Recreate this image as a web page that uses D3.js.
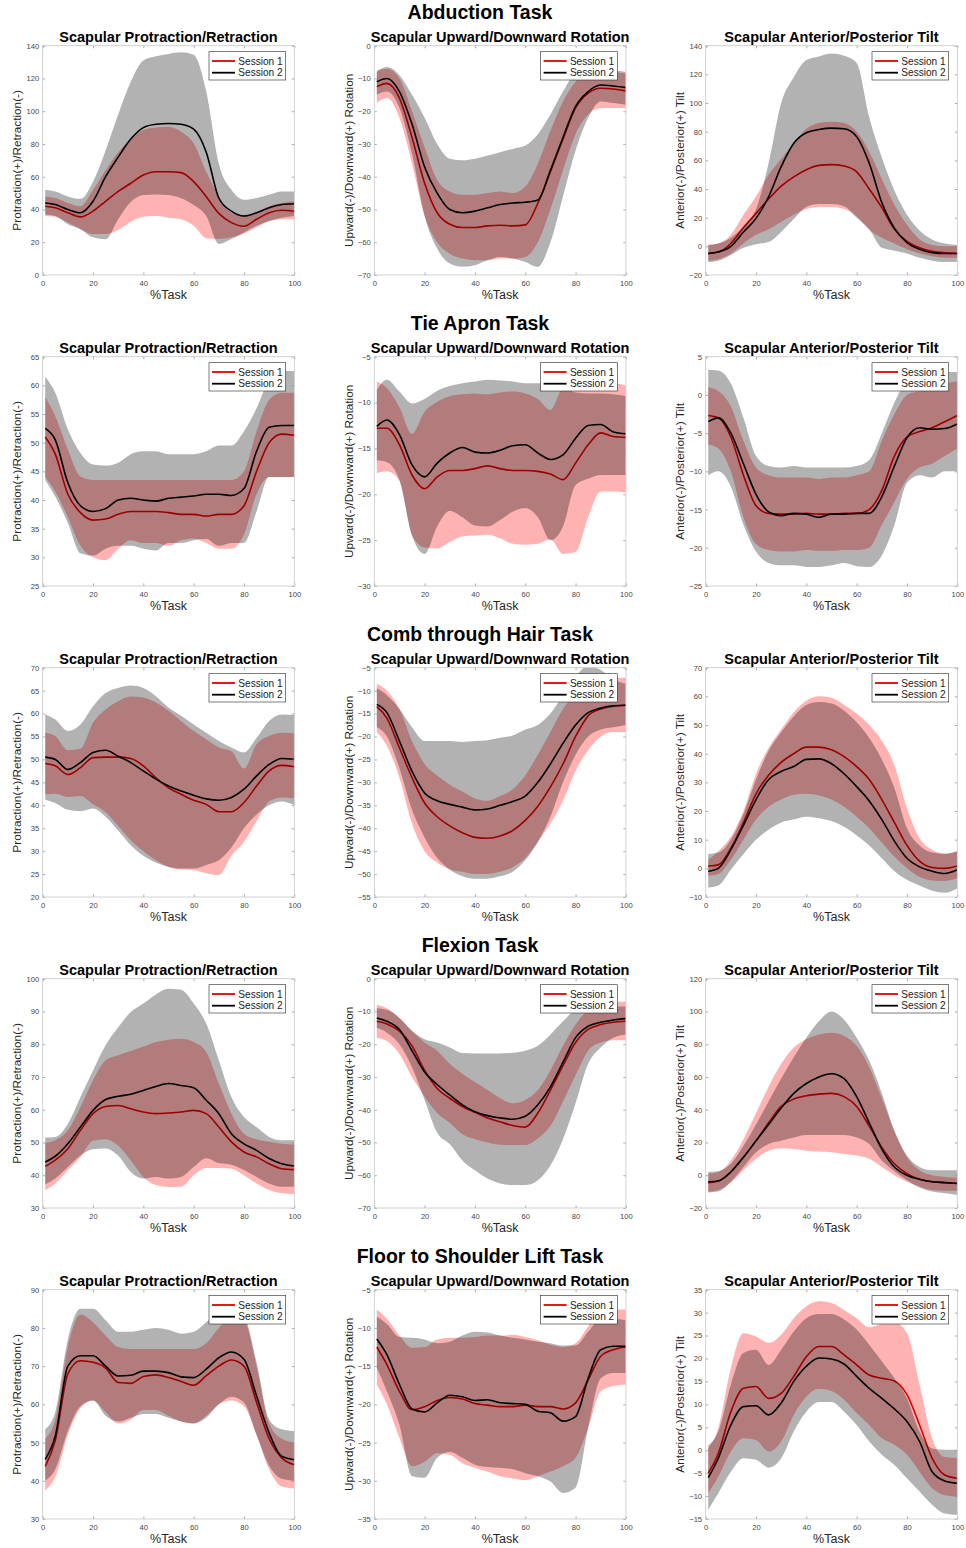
<!DOCTYPE html>
<html><head><meta charset="utf-8">
<script src="https://cdn.jsdelivr.net/npm/d3@7"></script>
<style>
html,body{margin:0;padding:0;background:#fff;}
svg{display:block;font-family:"Liberation Sans",Arial,Helvetica,sans-serif;}
</style></head><body>
<svg id="chart" width="966" height="1548"></svg>
<script>
// ---------- categories / labels ----------
const taskTitles = ["Abduction Task","Tie Apron Task","Comb through Hair Task","Flexion Task","Floor to Shoulder Lift Task"];
const panelTitles = ["Scapular Protraction/Retraction","Scapular Upward/Downward Rotation","Scapular Anterior/Posterior Tilt"];
const yLabels = ["Protraction(+)/Retraction(-)","Upward(-)/Downward(+) Rotation","Anterior(-)/Posterior(+) Tilt"];
const seriesNames = ["Session 1","Session 2"];
const xTicks = [0,20,40,60,80,100];
// %Task sample points
const pct = [1,5,10,15,20,25,30,35,40,45,50,55,60,65,70,75,80,85,90,95,100];
// y axis domains and tick steps, panel order row by row
const yDomains = [[0,140],[-70,0],[-20,140],[25,65],[-30,-5],[-25,5],[20,70],[-55,-5],[-10,70],[30,100],[-70,0],[-20,120],[30,90],[-35,-5],[-15,35]];
const yTickSteps = [20,10,20,5,5,5,5,5,10,10,10,20,10,5,5];

// ---------- Abduction ----------
const abdPro_s1   = [42,41,38,35.5,39,45,51,56,61,63,63,62.5,57,47.8,37.6,32,29.8,34,38,39.5,39];
const abdPro_s1lo = [36,35.5,32,28,25,25,27.5,32.5,35.5,36,35,34,30,22.5,22,23,25.4,29,33,34,34];
const abdPro_s1hi = [48,47,44,42,52,64,75,83,88.5,90,90.5,87.5,80.4,63,48,38,36,38,42,44,45];
const abdPro_s2   = [44,43,40,38,45,60,72,83,90,92,92.5,92,89,75,47,39,36,38,41,43,43.5];
const abdPro_s2lo = [37,36,31,28,23,21.8,34,44.5,48.8,49.2,48.8,46.8,42.7,36,19,22,26,30,33,35,36];
const abdPro_s2hi = [52,51,48,46.5,57,76,98,118,131,133.5,135,136,134.5,112,68,52,46,47,49,51,51];

const abdUp_s1   = [-12.5,-11.5,-16,-28,-42,-51,-54.5,-55.5,-55.5,-55,-54.8,-55,-54.7,-48.1,-38.5,-28.5,-19,-14.5,-13,-13.2,-13.8];
const abdUp_s1lo = [-17.5,-16,-22,-36,-52,-60,-63.5,-65,-65.5,-65.5,-65,-65,-64.5,-60,-50,-38,-27,-21,-19,-19,-19];
const abdUp_s1hi = [-7.5,-7,-10,-20,-31,-41,-44.5,-45.5,-45.5,-45,-44.5,-45,-43,-36,-26,-17,-11,-7.5,-7.5,-8,-8.5];
const abdUp_s2   = [-11,-10,-14,-24,-37,-45,-50,-51,-50.5,-49.5,-48.5,-48,-47.8,-47.1,-38,-28,-18.5,-14,-12,-12.3,-12.8];
const abdUp_s2lo = [-15,-14,-19,-33,-52,-62,-66.5,-67.5,-67,-65.5,-64.5,-65,-66,-67.5,-60,-46,-32,-22,-17,-17.5,-18];
const abdUp_s2hi = [-8,-6.5,-9,-15,-22,-30,-34.5,-35,-34.5,-33.5,-32.5,-31.5,-30.5,-27,-21,-14,-8,-6.5,-7,-7.5,-8];

const abdTilt_s1   = [-5,-4,2,13,23,33,42,48.5,53.5,56.5,57,56,52,40,27,12,3.5,-1,-3.5,-4.5,-5];
const abdTilt_s1lo = [-10,-9,-5,2,8,12,17,22,26,27.5,27.5,26,21,11.5,6,2,-2,-5,-7,-8,-8];
const abdTilt_s1hi = [1,2,8,22,35,50,61,72,82,86,87,86,80,66,47,29,15,5,1,0,0];
const abdTilt_s2   = [-5,-4,0,10,19.5,34.6,55.6,71.9,79.3,81.5,82.5,82,76.5,58,30.5,12.6,2.6,-2,-4.4,-5,-5];
const abdTilt_s2lo = [-11,-10,-6,-1,1.5,3,10,19,27.5,29.5,29.5,28,20,12,-1,-3,-5,-8,-10,-11,-11];
const abdTilt_s2hi = [1,2,6,14,26,58,100,118,130,132.5,134.5,133,128,90,62,39,22,11,4.7,2,1];

// ---------- Tie Apron ----------
const tiePro_s1   = [51,48,41,37.8,36.5,36.7,37.5,38,38,38,37.8,37.5,37.5,37.2,37.5,37.5,39,45,50,51.5,51.3];
const tiePro_s1lo = [44,41.5,37,32,30,29.5,31.5,33,32.5,32.5,32,33,33.3,32.5,31.5,31.5,34,41,44,44,44];
const tiePro_s1hi = [58,54.6,48.8,44.1,43.5,43.5,43.5,43.5,43.5,43.5,43.5,43.5,43.5,43.5,43.5,43.5,45,52,57.5,58.7,58.7];
const tiePro_s2   = [52.5,50.5,43,39,38,38.5,40,40.3,40,39.8,40.3,40.5,40.7,41,41,40.8,42,48.5,52.7,53,53];
const tiePro_s2lo = [43.5,40.6,36,30.7,30.3,31.5,32,32,31.5,31.2,32.5,32.5,33,33.2,32,32.5,32.5,38,44,44,44];
const tiePro_s2hi = [61.5,58.7,52.3,48.2,46.2,46,46.5,48,48.5,48.5,48,48,48,48.5,49.5,49.5,52,56,61,62.5,62.5];

const tieUp_s1   = [-12.8,-12.8,-14.6,-17.9,-19.4,-18.1,-17.4,-17.4,-17.2,-16.9,-17.2,-17.4,-17.4,-17.5,-17.8,-18.4,-16.6,-14.6,-13.3,-13.7,-13.8];
const tieUp_s1lo = [-17.7,-17.5,-18.5,-24.5,-25.8,-25.9,-25.2,-24.6,-24.5,-24.4,-24.8,-25.4,-25.5,-25.4,-24.9,-26.5,-26.3,-22.5,-19.7,-19.7,-19.8];
const tieUp_s1hi = [-7.7,-8.4,-10.5,-13.4,-11,-9.9,-9.3,-9.1,-9,-9.1,-8.9,-8.8,-9,-9.6,-10.8,-8.3,-7.8,-7.8,-7.8,-7.9,-8.1];
const tieUp_s2   = [-12.6,-11.9,-13.5,-16.8,-18.1,-16.6,-15.5,-14.9,-15.4,-15.5,-15.2,-14.7,-14.6,-15.5,-16.2,-15.7,-13.9,-12.5,-12.4,-13.2,-13.4];
const tieUp_s2lo = [-16.3,-16.5,-18.5,-24.5,-26.5,-23.5,-21.8,-22.5,-23.4,-23.5,-22.8,-21.9,-21.5,-22.5,-25,-23.5,-19,-18.3,-17.9,-17.9,-17.9];
const tieUp_s2hi = [-8.6,-7.5,-8.8,-10.1,-9.6,-8.7,-8.2,-7.9,-7.7,-7.5,-7.6,-7.7,-7.9,-7.9,-8,-8.3,-8.9,-9,-9,-9.1,-9.3];

const tieTilt_s1   = [-2.7,-3,-5.5,-10.5,-14.5,-15.5,-15.6,-15.6,-15.5,-15.6,-15.6,-15.5,-15.5,-15,-12.5,-8,-5.5,-4.8,-4.3,-3.5,-2.7];
const tieTilt_s1lo = [-6.5,-7,-10,-16,-19.5,-20.3,-20.5,-20.5,-20.3,-20.4,-20.4,-20.3,-20.3,-20,-17,-14,-11,-9.5,-9,-8,-7];
const tieTilt_s1hi = [1,0.5,-1.5,-6,-9.5,-10.5,-10.8,-10.8,-10.8,-11,-10.8,-10.8,-10.5,-10,-6,-2.5,0,0.5,1,1.5,1.8];
const tieTilt_s2   = [-3.5,-3,-5,-9,-13,-15.3,-15.8,-15.5,-15.6,-16,-15.6,-15.6,-15.5,-15.5,-13.3,-9.3,-5.6,-4.3,-4.5,-4.4,-3.8];
const tieTilt_s2lo = [-10.5,-10,-12,-17,-20.5,-22,-22.3,-22.3,-22.5,-22.5,-22.3,-22,-22.4,-22.5,-21,-17,-11.5,-10.5,-10.8,-10,-10];
const tieTilt_s2hi = [3.3,3.2,1.5,-3,-8,-9.3,-9.5,-9.3,-9.5,-9.5,-9.5,-9.5,-9.3,-8.5,-5,-1,2,3,3,3,3];

// ---------- Comb through Hair ----------
const combPro_s1   = [49.1,48.6,46.7,48.2,50.4,50.5,50.5,50.2,48.6,46,43.8,42.4,41.1,40.2,38.6,38.6,40.6,44.2,47.5,48.7,48.4];
const combPro_s1lo = [42.4,42.5,41.8,42,40.2,38.5,35.5,32.4,30,28,26.5,26,25.9,25.2,24.8,29,32,36.5,40.8,41.7,41.5];
const combPro_s1hi = [55.8,55.1,52,52.3,58,60.9,62.7,63.7,63.5,62.4,60.6,58.4,56.2,54.4,52.6,51.8,48,53.3,55.1,55.8,55.7];
const combPro_s2   = [50.5,50,47.8,49.3,51.5,52,50.7,49.3,47.5,45.7,44.2,43.1,42.2,41.4,41.1,41.7,43.5,46.4,48.9,50.2,50];
const combPro_s2lo = [41.2,40.5,39,38.7,39.3,37.5,34.5,31.3,29,27.5,26.6,26.2,26.2,27,28,30.8,35,38,40,40.8,40];
const combPro_s2hi = [59.8,58.7,56.2,57.6,61.6,64.5,65.6,66.1,65.6,63.8,61.3,59.5,57.6,55.8,54,52.6,51.5,54.7,58.4,59.8,59.7];

const combUp_s1   = [-13.5,-16,-22.5,-29,-34.5,-37.5,-39.5,-41,-42,-42.2,-41.7,-40.5,-38.3,-35.2,-31,-26,-20,-15.5,-14,-13.4,-13.2];
const combUp_s1lo = [-19,-22,-29,-39,-45,-47.5,-49,-49.5,-50,-50,-49.5,-48.5,-46.5,-43,-39,-34,-27.5,-23,-20,-19,-19];
const combUp_s1hi = [-8.5,-10,-14,-21,-26,-28.5,-30.5,-32,-33.5,-34,-33,-31.5,-28.5,-24,-19,-14,-10.5,-8.5,-7.5,-7.3,-7.2];
const combUp_s2   = [-13,-14.8,-21,-27.6,-32.3,-34,-34.8,-35.4,-36,-35.8,-35,-34.2,-33,-30,-26,-21.5,-17.5,-14.8,-13.8,-13.3,-13.2];
const combUp_s2lo = [-18,-20,-27,-36,-42,-46.5,-49,-50.5,-51,-51,-50.5,-49.5,-47,-43,-37.5,-30,-24,-20,-18.5,-18,-17.5];
const combUp_s2hi = [-9.5,-11,-14,-18,-21,-21,-21,-21.2,-21,-20.8,-20.3,-19.8,-18.5,-17.5,-15,-11,-7,-4.5,-5.5,-7.5,-8.5];

const combTilt_s1   = [0.8,1.2,7,16,26,32.5,37,40,42.3,42.3,41.4,39,35.5,31,24,16,8,2.5,0.3,0,0.8];
const combTilt_s1lo = [-2.6,-2,3,10,17,21.5,24,25.7,26,25.4,24,21.5,18,14,9,4,0,-3,-4.2,-4.4,-3.5];
const combTilt_s1hi = [3,6,11,20,33,42,48.5,54.5,58.5,60,59.5,57,54,50,44.5,36,21,10.5,6.5,5.2,6];
const combTilt_s2   = [-1,0,6.5,15,24,31,33.8,35.5,38,38.2,36.5,33,28.5,23.5,17,9.5,3.5,0.5,-1,-1.8,-0.5];
const combTilt_s2lo = [-6.7,-6,-0.5,5,10,13.5,16,17,18,17.5,16.5,14.5,11.5,8,3.5,-1,-4,-6,-7.8,-8.5,-7];
const combTilt_s2hi = [5,5.5,10,19,31,41,47.5,53,57,58,57.5,55,51,45.5,38,28,14,8,5.5,5,6];

// ---------- Flexion ----------
const flexPro_s1   = [42.7,44.6,48.1,53.7,58.8,61,61.3,60.3,59.3,58.8,59,59.3,59.8,58.8,54.7,50.2,47.1,45.6,43.5,42,41.7];
const flexPro_s1lo = [35.4,37.5,41.5,45.5,50.5,51,49,44.5,39.5,37,36.4,36.5,40,42.2,42.2,42,40,37.5,35.5,34.5,34.3];
const flexPro_s1hi = [49.9,50.7,53.7,60.8,69,75.1,76.6,77.9,79.3,80.7,81.4,81.7,80.7,77.6,68,58.8,52.7,51,50.2,49.6,49.4];
const flexPro_s2   = [44.05,45.8,49.6,54.7,59.8,63.1,64.1,64.7,65.9,67.1,68,67.4,66.7,62.9,58.8,52.7,49.6,47.6,45.1,43.5,42.8];
const flexPro_s2lo = [37.2,39,42.5,46,47.9,48.2,46,41,39,39.5,39,39.5,42.5,45.2,43.7,43.2,41.6,39.5,37.5,36.5,36.5];
const flexPro_s2hi = [51.5,51.7,55.7,63.9,72,79.7,85.2,89.8,92.4,95.2,96.9,96.6,92.4,86.3,75.1,63.9,57.8,54.7,51.7,50.7,50.7];

const flexUp_s1   = [-13,-13.8,-16,-20.5,-28,-33.5,-36.5,-39,-40.8,-42.5,-43.7,-44.8,-45.3,-41,-34,-26.5,-19.5,-15.5,-14,-13.3,-13];
const flexUp_s1lo = [-18,-19,-23,-30,-36,-41,-44,-47.5,-49,-50,-50.7,-50.8,-50.8,-48.8,-45,-37.5,-29.5,-22,-19.5,-18.8,-18.8];
const flexUp_s1hi = [-8,-9,-12,-16,-19.5,-22,-26,-29,-31.5,-34,-36.5,-38,-37,-34,-28,-20.5,-14,-9.5,-7.5,-7,-7];
const flexUp_s2   = [-12,-13,-15.5,-22,-28.5,-32.3,-35.5,-38.5,-40.6,-41.8,-42.5,-42.9,-42,-38.5,-33,-25.5,-18,-14.5,-13.3,-12.6,-12.2];
const flexUp_s2lo = [-15,-16.5,-20,-27,-37,-47,-50.5,-55.5,-58.5,-61,-62.5,-63,-63,-61.5,-57,-49,-38,-26,-21,-18,-17];
const flexUp_s2hi = [-9,-9.5,-12,-16,-18.5,-19.5,-21,-22.7,-22.8,-22.8,-22.8,-22.6,-22,-20.5,-17,-13,-9.5,-8.5,-8.5,-8.5,-8.5];

const flexTilt_s1   = [-4.5,-3.5,2,11,21,32,42,46.5,48.5,49.5,50,48,42,30,17,7,1,-2.5,-4,-4.5,-5];
const flexTilt_s1lo = [-10,-9,-4.5,3,10,15,16.5,16,15,14.5,14,13,12,10,5,0,-4,-7,-9,-9.5,-9.5];
const flexTilt_s1hi = [1,2,9,22,38,54,68,78,83,86,87,85,79,66,47,27,11,3,0,-1,-1.5];
const flexTilt_s2   = [-4,-3.5,2,11,21,31,41,50,56,60,62,59,48,32,16,5,0,-2.5,-4,-4.5,-5];
const flexTilt_s2lo = [-10.5,-10,-4,5,14,19,21,23,24.5,24.5,24.5,24.5,23,19,9,2.5,-3,-7.5,-10,-11,-12];
const flexTilt_s2hi = [2,2.5,7,18,31,45,59,72,84,94,100,95,84,70,50,27,12,5,3,3,3];

// ---------- Floor to Shoulder Lift ----------
const liftPro_s1   = [43.8,50.5,68,71.4,71,69.5,65.7,65.5,67.3,67.7,67,66,65,67.5,70,71.6,70,60.5,51,46,44.2];
const liftPro_s1lo = [37.5,41,52,59,61,58,55,56,58.5,58.5,57,55.5,55,57,60,61,59.5,52,43,38.5,38];
const liftPro_s1hi = [51,56,75,83.5,81.5,78,75,74.5,74.5,74.5,74.5,74.5,74.5,76,80,83,82,70,55,51,50];
const liftPro_s2   = [45.6,51.7,70,72.7,72.7,70,67.4,67.6,68.7,68.7,68.3,67.2,67,69.2,72.2,73.7,71.8,62.2,52.5,46.4,45.5];
const liftPro_s2lo = [40,43,53,59.5,61,57,55.5,56.5,57.5,57.5,56.5,55.5,55,56.5,60,62,60.5,52,44,40.5,40];
const liftPro_s2hi = [53.5,58,77,85,85,82,79,79,79.5,80,79.5,78.5,79,81.5,84,84.5,83,71,56,53.5,53];

const liftUp_s1   = [-12.5,-14.8,-18.3,-20.7,-20.3,-19.5,-19.1,-19.3,-19.9,-20.1,-20.3,-20.3,-20.1,-20.3,-20.3,-20.6,-19.8,-16.8,-13.7,-12.85,-12.5];
const liftUp_s1lo = [-17.4,-20,-24.4,-28.1,-27.5,-26.4,-26.6,-27.7,-28.3,-28.8,-29.4,-29.7,-29.9,-29.4,-28.8,-28.1,-27,-23.1,-18.3,-17.6,-17.4];
const liftUp_s1hi = [-7.6,-8.8,-11,-12.6,-12.5,-11.5,-11.3,-11.3,-11.2,-11,-11,-10.9,-11.2,-11.6,-12.2,-12.5,-12,-9.8,-7.8,-7.6,-7.6];
const liftUp_s2   = [-11.45,-13.5,-17.4,-20.6,-21,-19.8,-18.8,-19,-19.5,-19.4,-19.8,-19.9,-20,-20.9,-21.1,-22.2,-21.6,-16.6,-12.85,-12.4,-12.4];
const liftUp_s2lo = [-15.2,-18.3,-22.7,-29.4,-29.6,-27,-26.2,-27,-27.9,-28.2,-28.3,-28.5,-29,-29.4,-30.1,-31.6,-30.9,-23.1,-16.6,-15.9,-15.9];
const liftUp_s2hi = [-8.5,-9.5,-11.2,-11.3,-11.5,-12,-11.8,-11,-10.5,-10.6,-11,-11.3,-11.5,-11.8,-12,-12.3,-12.3,-10.5,-8.8,-8.8,-9];

const liftTilt_s1   = [-5,-0.7,8.4,13.5,13.9,11.3,12.4,16.1,20.4,22.6,22.6,20.8,18.6,16.4,15.7,15.1,12.1,5.5,-1.75,-5.4,-6.1];
const liftTilt_s1lo = [-9.4,-5.8,-0.3,2.6,2.25,-0.3,1.9,7.7,11.7,13.4,12.9,11,8.1,5.5,2.6,1.2,-1,-4.7,-8.3,-9.8,-10.1];
const liftTilt_s1hi = [0.4,4.8,17.9,25.5,24.8,23.4,25.2,28.8,31.4,32.5,32.1,30.6,28.8,26.8,27.5,27.9,25.5,14.3,2.6,-1.5,-1.7];
const liftTilt_s2   = [-6,-1.75,5.5,9.5,9.7,7.7,10.3,15,18.3,20.1,19.9,18.8,16.1,13.5,11.3,9,6.25,1.9,-4.7,-6.7,-7.2];
const liftTilt_s2lo = [-13,-9.4,-4.7,-1.75,-2.1,-3.8,-1.75,4.1,8.4,10.5,10.5,8.4,5.5,1.9,-1,-3.2,-6.1,-9,-11.9,-13.8,-14.1];
const liftTilt_s2hi = [1,4.1,14.3,21.2,21.9,18.6,21.9,25.9,28.8,29.7,29.7,28.5,26.3,23,19.4,15.7,11.3,4.1,0.4,0.1,0.1];

// ---------- assemble panel table ----------
const panelSeries = [
  [abdPro_s1,abdPro_s1lo,abdPro_s1hi,abdPro_s2,abdPro_s2lo,abdPro_s2hi],
  [abdUp_s1,abdUp_s1lo,abdUp_s1hi,abdUp_s2,abdUp_s2lo,abdUp_s2hi],
  [abdTilt_s1,abdTilt_s1lo,abdTilt_s1hi,abdTilt_s2,abdTilt_s2lo,abdTilt_s2hi],
  [tiePro_s1,tiePro_s1lo,tiePro_s1hi,tiePro_s2,tiePro_s2lo,tiePro_s2hi],
  [tieUp_s1,tieUp_s1lo,tieUp_s1hi,tieUp_s2,tieUp_s2lo,tieUp_s2hi],
  [tieTilt_s1,tieTilt_s1lo,tieTilt_s1hi,tieTilt_s2,tieTilt_s2lo,tieTilt_s2hi],
  [combPro_s1,combPro_s1lo,combPro_s1hi,combPro_s2,combPro_s2lo,combPro_s2hi],
  [combUp_s1,combUp_s1lo,combUp_s1hi,combUp_s2,combUp_s2lo,combUp_s2hi],
  [combTilt_s1,combTilt_s1lo,combTilt_s1hi,combTilt_s2,combTilt_s2lo,combTilt_s2hi],
  [flexPro_s1,flexPro_s1lo,flexPro_s1hi,flexPro_s2,flexPro_s2lo,flexPro_s2hi],
  [flexUp_s1,flexUp_s1lo,flexUp_s1hi,flexUp_s2,flexUp_s2lo,flexUp_s2hi],
  [flexTilt_s1,flexTilt_s1lo,flexTilt_s1hi,flexTilt_s2,flexTilt_s2lo,flexTilt_s2hi],
  [liftPro_s1,liftPro_s1lo,liftPro_s1hi,liftPro_s2,liftPro_s2lo,liftPro_s2hi],
  [liftUp_s1,liftUp_s1lo,liftUp_s1hi,liftUp_s2,liftUp_s2lo,liftUp_s2hi],
  [liftTilt_s1,liftTilt_s1lo,liftTilt_s1hi,liftTilt_s2,liftTilt_s2lo,liftTilt_s2hi]
];

// ---------- layout ----------
const colLeft = [42.7, 374.3, 705.7];
const plotW = 251.6, plotH = 229.3;
const rowTop0 = 45.7, rowStep = 311;
const boxColor = "#c6c6c6", tickColor = "#8a8a8a", labelColor = "#444";

const svg = d3.select("#chart");
const defs = svg.append("defs");

taskTitles.forEach((t, r) => {
  svg.append("text").attr("x", 480).attr("y", rowTop0 + r * rowStep - 27.2)
    .attr("text-anchor", "middle").attr("font-size", 19.5).attr("font-weight", "bold")
    .attr("fill", "#000").text(t);
});

panelSeries.forEach((S, i) => {
  const r = Math.floor(i / 3), c = i % 3;
  const x0 = colLeft[c], y0 = rowTop0 + r * rowStep;
  const x = d3.scaleLinear().domain([0, 100]).range([x0, x0 + plotW]);
  const y = d3.scaleLinear().domain(yDomains[i]).range([y0 + plotH, y0]);
  const step = yTickSteps[i];
  const yTicks = d3.range(yDomains[i][0], yDomains[i][1] + step / 2, step);

  const clipId = "clip" + i;
  defs.append("clipPath").attr("id", clipId).append("rect")
    .attr("x", x0).attr("y", y0).attr("width", plotW).attr("height", plotH);

  const g = svg.append("g");
  const plot = g.append("g").attr("clip-path", `url(#${clipId})`);

  const area = (lo, hi) => d3.area()
    .x((d, k) => x(pct[k])).y0((d, k) => y(lo[k])).y1((d, k) => y(hi[k]))
    .curve(d3.curveMonotoneX)(pct);
  const line = (m) => d3.line()
    .x((d, k) => x(pct[k])).y((d, k) => y(m[k]))
    .curve(d3.curveMonotoneX)(pct);

  const [m1, lo1, hi1, m2, lo2, hi2] = S;
  plot.append("path").attr("d", area(lo1, hi1)).attr("fill", "#ff0000").attr("fill-opacity", 0.3);
  plot.append("path").attr("d", line(m1)).attr("fill", "none").attr("stroke", "#e00000").attr("stroke-width", 1.6);
  plot.append("path").attr("d", area(lo2, hi2)).attr("fill", "#000").attr("fill-opacity", 0.3);
  plot.append("path").attr("d", line(m2)).attr("fill", "none").attr("stroke", "#000").attr("stroke-width", 1.6);

  // axes
  const styleAxis = (sel) => {
    sel.select(".domain").remove();
    sel.selectAll(".tick line").attr("stroke", tickColor).attr("stroke-width", 0.7);
    sel.selectAll(".tick text").attr("fill", labelColor).attr("font-size", 7.6)
      .attr("font-family", '"Liberation Sans",Arial,Helvetica,sans-serif');
  };
  g.append("g").attr("transform", `translate(0,${y0 + plotH})`)
    .call(d3.axisBottom(x).tickValues(xTicks).tickSizeInner(-2.6).tickSizeOuter(0).tickPadding(5.6))
    .call(styleAxis);
  g.append("g").attr("transform", `translate(0,${y0})`)
    .call(d3.axisTop(x).tickValues(xTicks).tickSizeInner(-2.6).tickSizeOuter(0).tickFormat(""))
    .call(styleAxis);
  g.append("g").attr("transform", `translate(${x0},0)`)
    .call(d3.axisLeft(y).tickValues(yTicks).tickSizeInner(-2.6).tickSizeOuter(0).tickPadding(3.6).tickFormat(d3.format("d")))
    .call(styleAxis);
  g.append("g").attr("transform", `translate(${x0 + plotW},0)`)
    .call(d3.axisRight(y).tickValues(yTicks).tickSizeInner(-2.6).tickSizeOuter(0).tickFormat(""))
    .call(styleAxis);

  g.append("rect").attr("x", x0).attr("y", y0).attr("width", plotW).attr("height", plotH)
    .attr("fill", "none").attr("stroke", boxColor).attr("stroke-width", 0.8);

  // titles / labels
  g.append("text").attr("x", x0 + plotW / 2).attr("y", y0 - 3.6)
    .attr("text-anchor", "middle").attr("font-size", 14.5).attr("font-weight", "bold")
    .attr("fill", "#000").text(panelTitles[c]);
  g.append("text").attr("x", x0 + plotW / 2).attr("y", y0 + plotH + 24)
    .attr("text-anchor", "middle").attr("font-size", 12.5).attr("fill", "#262626").text("%Task");
  g.append("text").attr("transform", `translate(${x0 - 26},${y0 + plotH / 2}) rotate(-90)`)
    .attr("text-anchor", "middle").attr("dy", "0.36em").attr("font-size", 11.8)
    .attr("fill", "#262626").text(yLabels[c]);

  // legend
  const lx = x0 + plotW - 85.3, ly = y0 + 6;
  const lg = g.append("g");
  lg.append("rect").attr("x", lx).attr("y", ly).attr("width", 76.7).attr("height", 28.3)
    .attr("fill", "#fff").attr("stroke", "#262626").attr("stroke-width", 0.6);
  const legColors = ["#e00000", "#000"];
  seriesNames.forEach((nm, k) => {
    const yy = ly + 9.3 + k * 11.7;
    lg.append("line").attr("x1", lx + 3).attr("x2", lx + 26).attr("y1", yy).attr("y2", yy)
      .attr("stroke", legColors[k]).attr("stroke-width", 1.8);
    lg.append("text").attr("x", lx + 29.3).attr("y", yy + 3.7).attr("font-size", 10.1)
      .attr("fill", "#1a1a1a").text(nm);
  });
});
</script></body></html>
